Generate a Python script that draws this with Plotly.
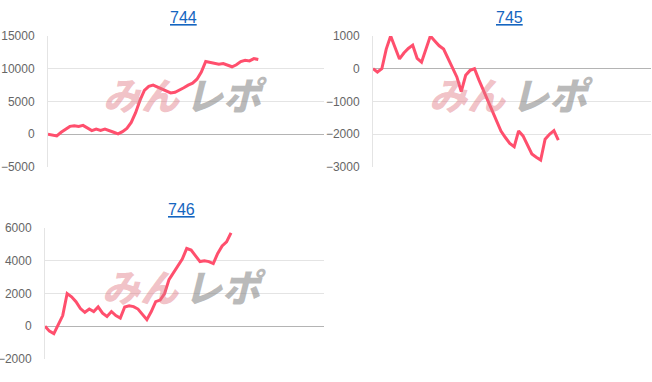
import plotly.graph_objects as go

titles = ["744", "745", "746"]

vals_744 = [0, -100, -250, 300, 800, 1200, 1300, 1200, 1350, 1000, 550, 800, 600, 800, 500,
            300, 50, 400, 900, 1800, 3300, 5200, 6700, 7300, 7500, 7200, 6900, 6600, 6300, 6400,
            6700, 7100, 7500, 7800, 8400, 9500, 11100, 11000, 10800, 10700, 10800, 10600, 10300,
            10600, 11100, 11300, 11200, 11550, 11400]

vals_745 = [0, -100, 0, 600, 1000, 650, 300, 480, 620, 720, 320, 200, 600, 1000, 850, 700,
            600, 320, 50, -250, -700, -200, -50, 0, -340, -650, -950, -1300, -1600, -1900,
            -2100, -2280, -2380, -1900, -2050, -2350, -2600, -2700, -2790, -2150, -2000, -1890,
            -2180]

vals_746 = [0, -300, -450, 100, 650, 2000, 1800, 1500, 1080, 850, 1050, 900, 1180, 800, 600,
            900, 650, 500, 1180, 1250, 1200, 1050, 700, 400, 900, 1500, 1600, 2000, 2850, 3250,
            3700, 4100, 4750, 4650, 4300, 3950, 4000, 3950, 3830, 4450, 4900, 5150, 5700]

series = [vals_744, vals_745, vals_746]
y_ranges = [[-5000, 15000], [-3000, 1000], [-2000, 6000]]
y_dticks = [5000, 1000, 2000]
x_max = 63

W, H = 652, 382
# plot areas in pixels: (left, right, top, bottom)
boxes = [(48, 324, 36, 167), (373, 651, 36, 167), (45, 324, 228, 359)]
title_px = [17, 17, 209]

LINE = "#ff4f6d"
GRID = "#e4e4e4"
ZERO = "#b4b4b4"
TICK = "#666666"
TITLE = "#1565c0"

fig = go.Figure()
layout = dict(width=W, height=H, margin=dict(l=0, r=0, t=0, b=0, autoexpand=False),
              paper_bgcolor="white", plot_bgcolor="white", showlegend=False,
              font=dict(family="Liberation Sans, Arial, sans-serif", size=12, color=TICK))
annotations = []

for k, (vals, title, yr, dt, box, ty) in enumerate(zip(series, titles, y_ranges, y_dticks, boxes, title_px)):
    n = "" if k == 0 else str(k + 1)
    l, r, t, b = box
    xd = [l / W, r / W]
    yd = [1 - b / H, 1 - t / H]
    fig.add_trace(go.Scatter(x=list(range(len(vals))), y=vals, mode="lines",
                             line=dict(color=LINE, width=3), hoverinfo="skip",
                             xaxis="x" + n, yaxis="y" + n))
    layout["xaxis" + n] = dict(domain=xd, range=[0, x_max], showgrid=False, zeroline=False,
                               showticklabels=False, showline=False, anchor="y" + n,
                               automargin=False)
    layout["yaxis" + n] = dict(domain=yd, range=yr, dtick=dt, tick0=0, tickformat="d",
                               showgrid=True, gridcolor=GRID, gridwidth=1, zeroline=True,
                               zerolinecolor=ZERO, zerolinewidth=1, showline=True,
                               linecolor=GRID, linewidth=1, ticks="", ticklabelstandoff=10,
                               tickfont=dict(size=12, color=TICK), anchor="x" + n,
                               automargin=False)
    # title
    annotations.append(dict(text="<u>" + title + "</u>", xref="paper", yref="paper",
                            x=(l + r) / 2 / W - 0.004, y=1 - ty / H, xanchor="center",
                            yanchor="middle", showarrow=False,
                            font=dict(size=16, color=TITLE, family="Liberation Sans, Arial")))
    # watermark
    annotations.append(dict(text="<i>みん</i>", xref="x" + n + " domain",
                            yref="y" + n + " domain", x=0.49, y=0.56, xanchor="right",
                            yanchor="middle", showarrow=False,
                            font=dict(size=38, weight=900, color="rgba(225,120,130,0.45)",
                                      family="Noto Sans CJK JP")))
    annotations.append(dict(text="<i>レポ</i>", xref="x" + n + " domain",
                            yref="y" + n + " domain", x=0.49, y=0.56, xanchor="left",
                            yanchor="middle", showarrow=False,
                            font=dict(size=38, weight=900, color="rgba(140,140,140,0.6)",
                                      family="Noto Sans CJK JP")))

layout["annotations"] = annotations
fig.update_layout(**layout)
fig.write_html("out.html")
